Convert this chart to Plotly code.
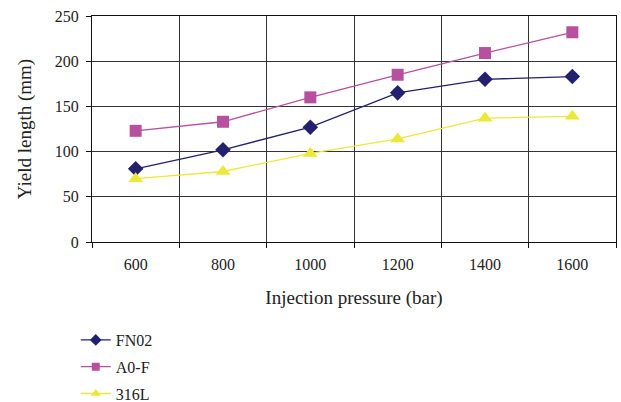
import plotly.graph_objects as go

pressures = ["600", "800", "1000", "1200", "1400", "1600"]
fn02 = [81, 102, 127, 165, 180, 183]
a0f = [123, 133, 160, 185, 209, 232]
l316 = [70, 78, 98, 114, 137, 139]

series = [
    ("FN02", fn02, "#23216e", "diamond", 12, 9),
    ("A0-F", a0f, "#b7509f", "square", 12, 8),
    ("316L", l316, "#ece83a", "triangle-up", 13, 9),
]

font_family = "Liberation Serif, DejaVu Serif, serif"

fig = go.Figure()
for i, (name, vals, color, sym, size, lsize) in enumerate(series):
    fig.add_trace(go.Scatter(x=pressures, y=vals, name=name, mode="lines+markers",
                             showlegend=False,
                             line=dict(color=color, width=1.3),
                             marker=dict(symbol=sym, size=size, color=color)))
    # legend-only entry with smaller marker, as in the reference key
    fig.add_trace(go.Scatter(x=[None], y=[None], name=name, mode="lines+markers",
                             legendgroup=f"g{i}",
                             line=dict(color=color, width=1.3),
                             marker=dict(symbol=sym, size=lsize, color=color)))

fig.update_layout(
    width=621, height=402,
    margin=dict(l=92, r=5, t=16, b=160),
    paper_bgcolor="white", plot_bgcolor="white",
    font=dict(family=font_family, size=16, color="#222"),
    showlegend=True,
    legend=dict(x=-0.031, y=0.1965, xanchor="left", yanchor="top",
                yref="container",
                tracegroupgap=3, itemwidth=30,
                font=dict(family=font_family, size=16, color="#222"),
                bgcolor="rgba(0,0,0,0)"),
    xaxis=dict(type="category", range=[-0.5, 5.5], tickson="boundaries",
               showgrid=True, gridcolor="#333", gridwidth=1,
               showline=True, linecolor="#111", linewidth=1, mirror=True,
               ticks="outside", ticklen=5, tickcolor="#111",
               ticklabelstandoff=8,
               title=dict(text="Injection pressure (bar)", standoff=18),
               tickfont=dict(size=16)),
    yaxis=dict(range=[0, 250], dtick=50, tick0=0,
               showgrid=True, gridcolor="#333", gridwidth=1,
               showline=True, linecolor="#111", linewidth=1, mirror=True,
               ticks="outside", ticklen=5, tickcolor="#111",
               ticklabelstandoff=4,
               zeroline=False,
               title=dict(text="Yield length (mm)", standoff=18),
               tickfont=dict(size=16)),
)

fig.write_html("out.html")
